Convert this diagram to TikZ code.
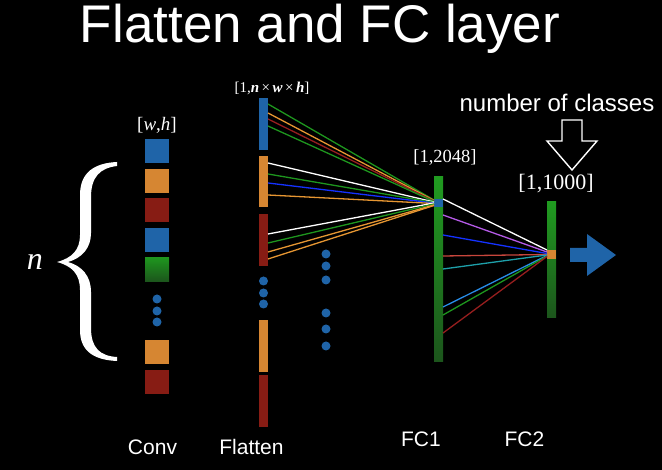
\documentclass[tikz,border=0pt]{standalone}
\usepackage{fontspec}
\setmainfont{Liberation Serif}
\setsansfont{Liberation Sans}
\definecolor{blueC}{RGB}{31,100,168}
\definecolor{orangeC}{RGB}{214,134,50}
\definecolor{redC}{RGB}{135,28,20}
\definecolor{gTop}{RGB}{32,155,32}
\definecolor{gBot}{RGB}{28,85,28}
\definecolor{lGreen}{RGB}{30,150,30}
\definecolor{lOrange}{RGB}{230,150,50}
\definecolor{lRed}{RGB}{150,30,30}
\definecolor{lBlue}{RGB}{20,50,255}
\definecolor{lViolet}{RGB}{180,90,230}
\definecolor{lRed2}{RGB}{200,70,60}
\definecolor{lTeal}{RGB}{30,160,170}
\definecolor{lLightBlue}{RGB}{40,140,230}
\begin{document}
\begin{tikzpicture}[x=1pt,y=-1pt,
  sq/.style={inner sep=0pt,outer sep=0pt,minimum width=24pt,minimum height=24pt},
  bar/.style={inner sep=0pt,outer sep=0pt,minimum width=9pt},
  dotnode/.style={circle,fill=blueC,inner sep=0pt,minimum size=9pt},
  conn/.style={line width=1.3pt},
  lbl/.style={text=white,inner sep=0pt},
  sanslbl/.style={text=white,inner sep=0pt,anchor=base,font=\sffamily\fontsize{21}{21}\selectfont}]
\fill[black] (0,0) rectangle (662,470);
\useasboundingbox (0,0) rectangle (662,470);
% title
\node[lbl,anchor=base,font=\sffamily\fontsize{53}{53}\selectfont] (title) at (320,43) {Flatten and FC layer};
% n and brace
\node[lbl,font=\fontsize{32}{32}\selectfont\itshape] (n) at (35,262) {n};
\fill[white] (117,162) .. controls (95,163) and (80,172) .. (80,195) -- (80,235)
  .. controls (80,250) and (72,258) .. (57,262) .. controls (72,266) and (80,274) .. (80,290)
  -- (80,330) .. controls (80,352) and (95,360) .. (117,361) -- (117,357)
  .. controls (100,356) and (91,348) .. (91,328) -- (91,292)
  .. controls (91,276) and (82,266) .. (68,262) .. controls (82,258) and (91,248) .. (91,233)
  -- (91,197) .. controls (91,177) and (100,168) .. (117,166) -- cycle;
% conv squares
\node[lbl,font=\fontsize{19}{19}\selectfont] (wh) at (157,125) {[\textit{w},\textit{h}]};
\node[sq,fill=blueC] (c1) at (157,151.5) {};
\node[sq,fill=orangeC] (c2) at (157,181) {};
\node[sq,fill=redC] (c3) at (157,210.5) {};
\node[sq,fill=blueC] (c4) at (157,240) {};
\node[sq,top color=lGreen,bottom color=gBot] (c5) at (157,269.5) {};
\node[dotnode] (cd1) at (157,299) {};
\node[dotnode] (cd2) at (157,311) {};
\node[dotnode] (cd3) at (157,322) {};
\node[sq,fill=orangeC] (c6) at (157,352.5) {};
\node[sq,fill=redC] (c7) at (157,382) {};
% flatten
\node[lbl,font=\fontsize{15}{15}\selectfont] (nwh) at (272,88) {[1,\textit{\textbf{n}}\,×\,\textit{\textbf{w}}\,×\,\textit{\textbf{h}}]};
\node[bar,fill=blueC,minimum height=52pt] (f1) at (263.5,124) {};
\node[bar,fill=orangeC,minimum height=51pt] (f2) at (263.5,181.5) {};
\node[bar,fill=redC,minimum height=52pt] (f3) at (263.5,240) {};
\node[dotnode] (fd1) at (263.5,281) {};
\node[dotnode] (fd2) at (263.5,293) {};
\node[dotnode] (fd3) at (263.5,304) {};
\node[bar,fill=orangeC,minimum height=52pt] (f4) at (263.5,346) {};
\node[bar,fill=redC,minimum height=52pt] (f5) at (263.5,401) {};
% middle dots
\node[dotnode] (md1) at (326,254) {};
\node[dotnode] (md2) at (326,266) {};
\node[dotnode] (md3) at (326,280) {};
\node[dotnode] (md4) at (326,313) {};
\node[dotnode] (md5) at (326,329) {};
\node[dotnode] (md6) at (326,346) {};
% FC1
\node[lbl,font=\fontsize{18.5}{18.5}\selectfont] (l2048) at (445,157.5) {[1,2048]};
\node[bar,minimum height=185pt,top color=gTop,bottom color=gBot] (fc1) at (438.5,269.5) {};
\node[bar,fill=blueC,minimum height=8pt] (h1) at (438.5,203) {};
% FC2
\node[lbl,font=\fontsize{22}{22}\selectfont] (l1000) at (556,183.5) {[1,1000]};
\node[bar,minimum height=116pt,top color=gTop,bottom color=gBot] (fc2) at (551.5,260) {};
\node[bar,fill=orangeC,minimum height=9pt] (h2) at (551.5,254.5) {};
% flatten -> FC1
\draw[conn,lGreen]  ([yshift=-6pt]f1.north east) -- ([yshift=3pt]h1.west);
\draw[conn,lOrange] ([yshift=-15pt]f1.north east) -- ([yshift=2.5pt]h1.west);
\draw[conn,lRed]    ([yshift=-21pt]f1.north east) -- ([yshift=2pt]h1.west);
\draw[conn,lGreen]  ([yshift=-28pt]f1.north east) -- ([yshift=1.5pt]h1.west);
\draw[conn,white]   ([yshift=-7pt]f2.north east) -- ([yshift=1pt]h1.west);
\draw[conn,lGreen]  ([yshift=-18pt]f2.north east) -- ([yshift=0.5pt]h1.west);
\draw[conn,lBlue]   ([yshift=-27pt]f2.north east) -- ([yshift=0pt]h1.west);
\draw[conn,lOrange] ([yshift=-39pt]f2.north east) -- ([yshift=-0.5pt]h1.west);
\draw[conn,white]   ([yshift=-20pt]f3.north east) -- ([yshift=0pt]h1.west);
\draw[conn,lGreen]  ([yshift=-29pt]f3.north east) -- ([yshift=-1pt]h1.west);
\draw[conn,lOrange] ([yshift=-38pt]f3.north east) -- ([yshift=-2pt]h1.west);
\draw[conn,lOrange] ([yshift=-45pt]f3.north east) -- ([yshift=-2.5pt]h1.west);
% FC1 -> FC2
\draw[conn,white]      ([yshift=-22pt]fc1.north east) -- ([yshift=4.5pt]h2.west);
\draw[conn,lViolet]    ([yshift=-38pt]fc1.north east) -- ([yshift=2.5pt]h2.west);
\draw[conn,lBlue]      ([yshift=-58pt]fc1.north east) -- ([yshift=1pt]h2.west);
\draw[conn,lRed2]      ([yshift=-79pt]fc1.north east) -- ([yshift=0pt]h2.west);
\draw[conn,lTeal]      ([yshift=-92pt]fc1.north east) -- ([yshift=-0.5pt]h2.west);
\draw[conn,lLightBlue] ([yshift=-130pt]fc1.north east) -- ([yshift=-1pt]h2.west);
\draw[conn,lGreen]     ([yshift=-138pt]fc1.north east) -- ([yshift=-1.5pt]h2.west);
\draw[conn,lRed]       ([yshift=-156pt]fc1.north east) -- ([yshift=-2pt]h2.west);
% output arrow
\fill[blueC] (570,248) -- (587,248) -- (587,234) -- (616,255) -- (587,276) -- (587,262) -- (570,262) -- cycle;
% number of classes
\node[lbl,anchor=base,font=\sffamily\fontsize{24}{24}\selectfont] (noc) at (557,112) {number of classes};
\draw[white,line width=1.4pt,line join=miter] (562,120) -- (582,120) -- (582,141) -- (597,141) -- (572,170) -- (547,141) -- (562,141) -- cycle;
% bottom labels
\node[sanslbl] (lconv) at (152.5,455) {Conv};
\node[sanslbl] (lflat) at (251.5,455) {Flatten};
\node[sanslbl] (lfc1) at (421,447) {FC1};
\node[sanslbl] (lfc2) at (524.5,447) {FC2};
\end{tikzpicture}
\end{document}
